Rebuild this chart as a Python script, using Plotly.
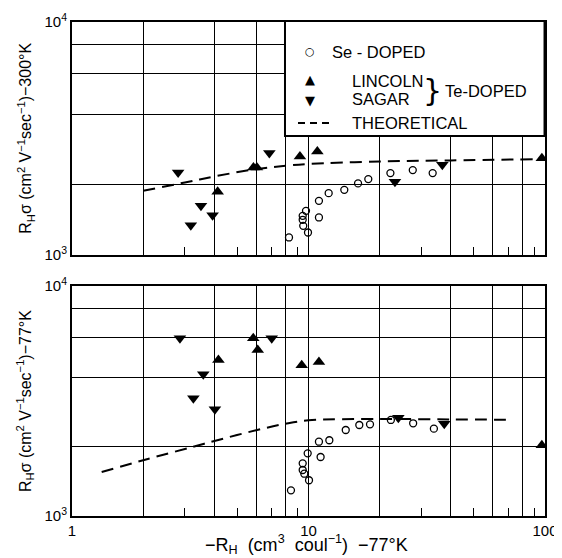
import plotly.graph_objects as go

# ---------------- data ----------------
# 300 K panel
se_x_300 = [8.27, 9.45, 9.45, 9.5, 9.76, 9.95, 11.07, 11.07, 12.17, 14.17, 16.2, 17.9, 22.2, 27.6, 33.5]
se_y_300 = [1191, 1475, 1418, 1336, 1549, 1251, 1710, 1451, 1845, 1906, 2031, 2119, 2249, 2316, 2249]
lincoln_x_300 = [4.13, 5.85, 6.05, 9.2, 10.9, 97]
lincoln_y_300 = [1870, 2378, 2378, 2652, 2787, 2607]
sagar_x_300 = [2.81, 3.18, 3.51, 3.93, 6.83, 23.2, 36.8]
sagar_y_300 = [2265, 1345, 1628, 1485, 2740, 2064, 2442]
theory_x_300 = [2, 3, 4, 6, 8, 10, 20, 40, 90]
theory_y_300 = [1888, 2050, 2176, 2339, 2417, 2460, 2523, 2549, 2580]

# 77 K panel
se_x_77 = [8.43, 9.45, 9.45, 9.6, 9.92, 10.05, 11.07, 11.25, 12.25, 14.37, 16.4, 18.2, 22.3, 27.7, 33.9]
se_y_77 = [1293, 1694, 1585, 1527, 1873, 1430, 2104, 1805, 2135, 2365, 2487, 2504, 2616, 2530, 2398]
lincoln_x_77 = [4.16, 5.84, 6.1, 9.36, 11.07, 97]
lincoln_y_77 = [4768, 5925, 5268, 4520, 4673, 2029]
sagar_x_77 = [2.86, 3.26, 3.59, 4.02, 6.99, 23.98, 37.5]
sagar_y_77 = [5925, 3248, 4132, 2910, 5925, 2676, 2519]
theory_x_77 = [1.335, 2, 3.25, 4, 6, 8, 10, 20, 40, 72]
theory_y_77 = [1553, 1748, 2000, 2119, 2359, 2519, 2606, 2640, 2630, 2620]

# axis ticks
x_grid_vals = [1, 2, 4, 6, 8, 10, 20, 40, 60, 80, 100]
x_grid_text = ["1", "", "", "", "", "10", "", "", "", "", "100"]
x_minor_vals = [3, 5, 7, 9, 30, 50, 70, 90]
y_grid_vals = [1000, 2000, 4000, 6000, 8000, 10000]
y_grid_text = ["10<sup>3</sup>", "", "", "", "", "10<sup>4</sup>"]

FONT = "Liberation Sans, Arial, sans-serif"
INK = "black"
NB = "\u00a0"

fig = go.Figure()

def add_panel(xa, ya, sx, sy, lx, ly, gx, gy, tx, ty):
    fig.add_trace(go.Scatter(x=tx, y=ty, mode="lines", line=dict(color=INK, width=2, dash="12px,7px", shape="spline"),
                             xaxis=xa, yaxis=ya, showlegend=False, hoverinfo="skip"))
    fig.add_trace(go.Scatter(x=sx, y=sy, mode="markers",
                             marker=dict(symbol="circle-open", size=7, color=INK, line=dict(width=1.3, color=INK)),
                             xaxis=xa, yaxis=ya, showlegend=False))
    fig.add_trace(go.Scatter(x=lx, y=ly, mode="markers",
                             marker=dict(symbol="triangle-up", size=11, color=INK),
                             xaxis=xa, yaxis=ya, showlegend=False))
    fig.add_trace(go.Scatter(x=gx, y=gy, mode="markers",
                             marker=dict(symbol="triangle-down", size=11, color=INK),
                             xaxis=xa, yaxis=ya, showlegend=False))

add_panel("x", "y", se_x_300, se_y_300, lincoln_x_300, lincoln_y_300, sagar_x_300, sagar_y_300, theory_x_300, theory_y_300)
add_panel("x2", "y2", se_x_77, se_y_77, lincoln_x_77, lincoln_y_77, sagar_x_77, sagar_y_77, theory_x_77, theory_y_77)

# ---------------- legend box (shapes) ----------------
shapes = [
    dict(type="rect", xref="paper", yref="paper", x0=0.4503, x1=0.999, y0=0.769, y1=1.002,
         fillcolor="white", line=dict(color=INK, width=2), layer="above"),
    dict(type="line", xref="paper", yref="paper", x0=0.4778, x1=0.5455, y0=0.7955, y1=0.7955,
         line=dict(color=INK, width=2, dash="7px,5px"), layer="above"),
]

leg_font = dict(family=FONT, size=16.5, color=INK)
sym_font = dict(family="DejaVu Sans, sans-serif", size=13, color=INK)
annotations = []
for txt, x, y, f in [
    ("○", 0.5032, 0.9393, dict(family="DejaVu Sans, sans-serif", size=11, color=INK)),
    ("▲", 0.5032, 0.8846, sym_font),
    ("▼", 0.5032, 0.8401, sym_font),
]:
    annotations.append(dict(text=txt, x=x, y=y, xref="paper", yref="paper", xanchor="center",
                            yanchor="middle", showarrow=False, font=f))
for txt, x, y in [
    ("Se - DOPED", 0.5455, 0.9393),
    ("LINCOLN", 0.5877, 0.8806),
    ("SAGAR", 0.5877, 0.8441),
    ("Te-DOPED", 0.7844, 0.8603),
    ("THEORETICAL", 0.5877, 0.7955),
]:
    annotations.append(dict(text=txt, x=x, y=y, xref="paper", yref="paper", xanchor="left",
                            yanchor="middle", showarrow=False, font=leg_font))
annotations.append(dict(text="}", x=0.7632, y=0.8623, xref="paper", yref="paper", showarrow=False,
                        xanchor="center", yanchor="middle",
                        font=dict(family="DejaVu Sans, sans-serif", size=30, color=INK)))

ytitle_font = dict(family=FONT, size=16, color=INK)
xtitle_font = dict(family=FONT, size=18, color=INK)
annotations += [
    dict(text=f"R<sub>H</sub>σ{NB}(cm<sup>2</sup>{NB}V<sup>−1</sup>sec<sup>−1</sup>)−300°K", x=-0.099, y=0.764,
         xref="paper", yref="paper", textangle=-90, showarrow=False, font=ytitle_font,
         xanchor="center", yanchor="middle"),
    dict(text=f"R<sub>H</sub>σ{NB}(cm<sup>2</sup>{NB}V<sup>−1</sup>sec<sup>−1</sup>)−77°K", x=-0.099, y=0.233,
         xref="paper", yref="paper", textangle=-90, showarrow=False, font=ytitle_font,
         xanchor="center", yanchor="middle"),
    dict(text=f"−R<sub>H</sub>{NB}{NB}(cm<sup>3</sup>{NB}{NB}coul<sup>−1</sup>){NB}{NB}−77°K", x=0.495, y=-0.058,
         xref="paper", yref="paper", showarrow=False, font=xtitle_font, xanchor="center", yanchor="middle"),
]

def xaxis_cfg(anchor, labels):
    return dict(type="log", range=[0, 2], anchor=anchor, tickmode="array", tickvals=x_grid_vals,
                ticktext=x_grid_text, showticklabels=labels, ticks="", showgrid=True, gridcolor=INK,
                gridwidth=1.3, showline=True, linecolor=INK, linewidth=2, mirror=True, zeroline=False,
                automargin=False,
                tickfont=dict(family=FONT, size=15, color=INK),
                minor=dict(tickvals=x_minor_vals, ticks="inside", ticklen=8, tickwidth=1.3,
                           tickcolor=INK, showgrid=False))

def yaxis_cfg(anchor, domain):
    return dict(type="log", range=[3, 4], anchor=anchor, domain=domain, tickmode="array",
                tickvals=y_grid_vals, ticktext=y_grid_text, ticks="", showgrid=True, gridcolor=INK,
                gridwidth=1.3, showline=True, linecolor=INK, linewidth=2, mirror=True, zeroline=False,
                automargin=False,
                tickfont=dict(family=FONT, size=15, color=INK))

fig.update_layout(
    width=554, height=550,
    margin=dict(l=64, r=17, t=14, b=42, autoexpand=False),
    paper_bgcolor="white", plot_bgcolor="white",
    showlegend=False,
    xaxis=xaxis_cfg("y", False),
    yaxis=yaxis_cfg("x", [0.528, 1.0]),
    xaxis2=xaxis_cfg("y2", True),
    yaxis2=yaxis_cfg("x2", [0.0, 0.4656]),
    shapes=shapes,
    annotations=annotations,
    font=dict(family=FONT, color=INK),
)

fig.write_html("out.html")
